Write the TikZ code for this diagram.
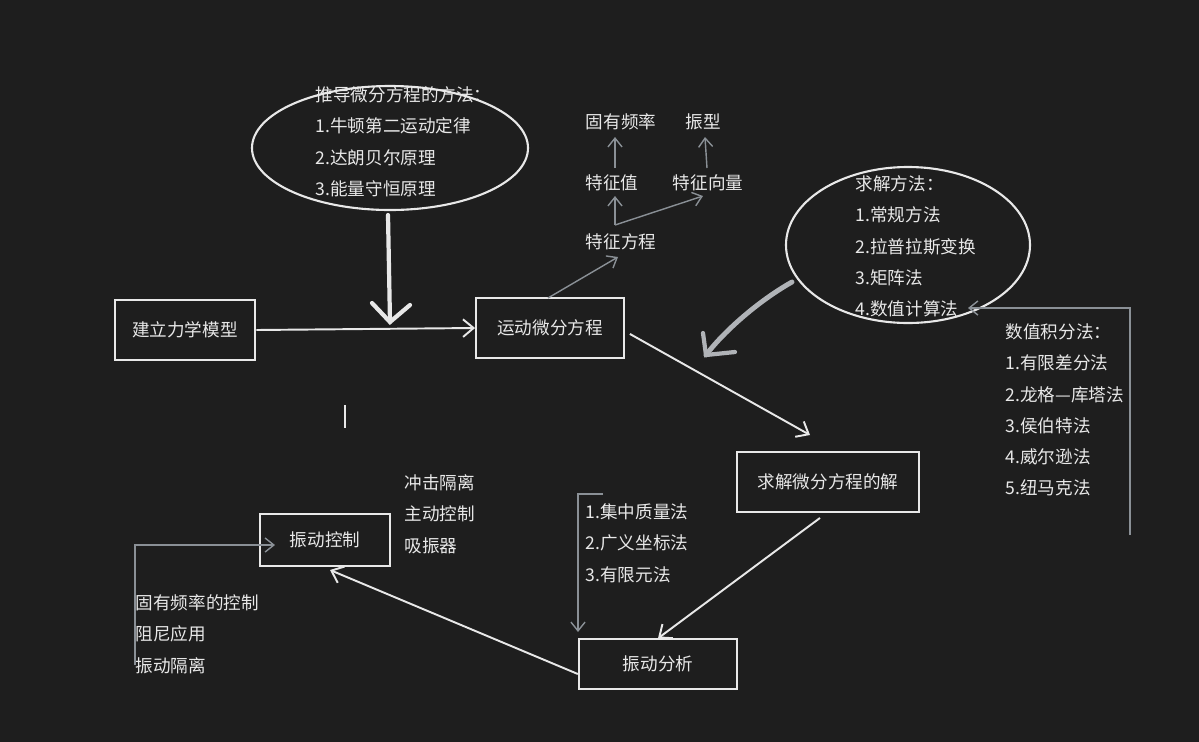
\documentclass[tikz,border=0pt]{standalone}
\usepackage{fontspec}
\newfontfamily\cjk{Noto Sans CJK SC}
\usetikzlibrary{arrows.meta,positioning}
\definecolor{bg}{HTML}{1E1E1E}
\definecolor{ink}{HTML}{E8E8E8}
\definecolor{thin}{HTML}{8A9096}

\tikzset{
  txt/.style={text=ink,font=\cjk\fontsize{5}{8.9}\selectfont,inner sep=0pt,align=left},
  box/.style={draw=ink,line width=0.6pt,minimum width=#1,minimum height=17pt,txt,align=center},
  flow/.style={draw=ink,line width=0.55pt,-{Straight Barb[length=3pt,width=5pt]}},
  side/.style={draw=thin,line width=0.4pt,-{Straight Barb[length=2.5pt,width=4pt]}},
  big/.style={draw=ink,line width=1.2pt,line cap=round},
}

\begin{document}
\begin{tikzpicture}[x=0.01cm,y=-0.01cm]
\fill[bg] (0,0) rectangle (1199,742);
\useasboundingbox (0,0) rectangle (1199,742);

% ellipses
\draw[ink,line width=0.6pt] (390,148) ellipse (138 and 62);
\node[txt,anchor=north west] (derive) at (315,86)
  {推导微分方程的方法：\\1.牛顿第二运动定律\\2.达朗贝尔原理\\3.能量守恒原理};
\draw[ink,line width=0.6pt] (908,245) ellipse (122 and 78);
\node[txt,anchor=north west] (solve) at (855,175)
  {求解方法：\\1.常规方法\\2.拉普拉斯变换\\3.矩阵法\\4.数值计算法};

% boxes
\node[box=40pt] (model) at (185,330) {建立力学模型};
\node[box=42pt] (eom)   at (550,328) {运动微分方程};
\node[box=52pt] (sol)   at (828,482) {求解微分方程的解};
\node[box=45pt,minimum height=14pt] (ana) at (658,664) {振动分析};
\node[box=37pt,minimum height=15pt] (ctl) at (325,540) {振动控制};

% eigen tree
\node[txt] (chareq) at (621,242) {特征方程};
\node[txt] (eigval) at (612,183) {特征值};
\node[txt] (eigvec) at (708,183) {特征向量};
\node[txt] (natf)   at (621,122) {固有频率};
\node[txt] (mode)   at (703,122) {振型};
\coordinate (fork) at (615,225);

% lists
\node[txt,anchor=north west] (numint) at (1005,323)
  {数值积分法：\\1.有限差分法\\2.龙格—库塔法\\3.侯伯特法\\4.威尔逊法\\5.纽马克法};
\node[txt,anchor=north west] (disc) at (585,503)
  {1.集中质量法\\2.广义坐标法\\3.有限元法};
\node[txt,anchor=north west] (iso) at (404,474)
  {冲击隔离\\主动控制\\吸振器};
\node[txt,anchor=north west] (app) at (135,594)
  {固有频率的控制\\阻尼应用\\振动隔离};

% main flow
\draw[flow] (model.east) -- (eom.west);
\draw[flow] (eom.south east) ++(5,-25) -- (810,435);
\draw[flow] (sol.south) ++(-8,5) -- (ana.north);
\draw[flow] (ana.west) ++(0,10) -- (330,570);

% eigen connectors
\draw[side] (548,298) -- (618,257);
\draw[side] (fork) -- (615,196);
\draw[side] (fork) -- (703,196);
\draw[side] (615,168) -- (615,137);
\draw[side] (707,168) -- (705,137);

% elbow connectors
\coordinate (n1) at (1130,535);
\coordinate (n2) at (1130,308);
\draw[side] (n1) -- (n2) -- (968,308);
\coordinate (d1) at (603,494);
\coordinate (d2) at (578,494);
\draw[side] (d1) -- (d2) -- (578,632);
\coordinate (a1) at (135,665);
\coordinate (a2) at (135,545);
\draw[side] (a1) -- (a2) -- (275,545);

% hand-drawn thick arrows
\coordinate (t1) at (388,215);
\coordinate (t2) at (390,322);
\draw[big] (t1) -- (t2);
\draw[big] (372,303) -- (t2) -- (410,305);
\coordinate (c1) at (792,282);
\coordinate (c2) at (706,355);
\draw[draw=thin!60!ink,line width=1.4pt,line cap=round] (c1) .. controls (760,300) and (725,330) .. (c2);
\draw[draw=thin!60!ink,line width=1.2pt,line cap=round] (703,333) -- (c2) -- (735,352);

% stray tick
\draw[ink,line width=0.4pt] (345,405) -- (345,428);
\end{tikzpicture}
\end{document}
